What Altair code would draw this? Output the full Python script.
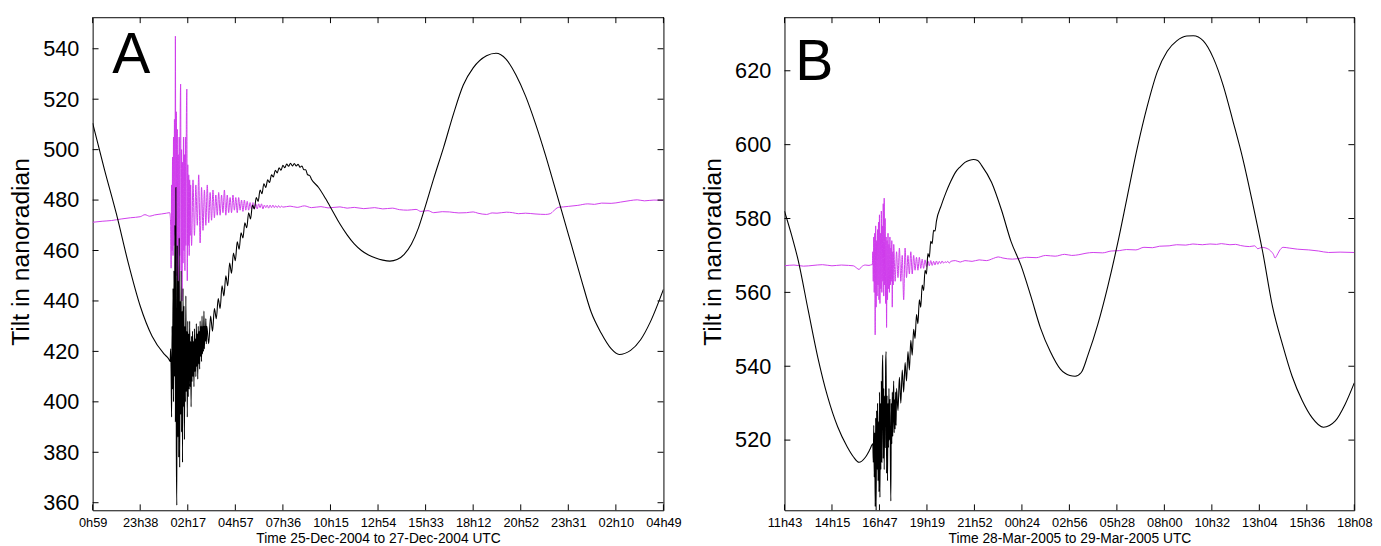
import altair as alt
import pandas as pd

FONT = "Liberation Sans"
BLACK = "#000000"
MAGENTA = "#cf3cec"

# ---------------- Panel A : 25-Dec-2004 to 27-Dec-2004 ----------------
A_TICK_LABELS = ["0h59", "23h38", "02h17", "04h57", "07h36", "10h15", "12h54",
                 "15h33", "18h12", "20h52", "23h31", "02h10", "04h49"]
A_STEP_H = 2.655          # hours between two time ticks
A_Y_TICKS = [360, 380, 400, 420, 440, 460, 480, 500, 520, 540]
A_Y_DOMAIN = [357, 552.5]
A_XTITLE = "Time 25-Dec-2004 to 27-Dec-2004 UTC"

# time is given in units of the tick step (0 = first tick, 12 = last tick)
A_BLACK_PRE_T = [0, 0.25, 0.5, 0.75, 1.0, 1.25, 1.5, 1.6]
A_BLACK_PRE_V = [510.5, 492, 474.5, 455, 438, 426, 419, 417]
A_BLACK_BURST = (1.63, 0.01, [
    416, 421, 412, 394, 430, 405, 445, 400, 452, 410, 470, 392, 485, 380, 359, 462,
    386, 448, 378, 465, 374, 440, 395, 452, 388, 436, 376, 445, 398, 438, 385, 430,
    400, 442, 404, 428, 394, 432, 402, 427, 405, 432, 406, 424, 398, 426, 408, 428,
    410, 424, 406, 429, 412, 425, 410, 431, 414, 427, 409, 430, 415, 428, 413, 432,
    418, 430, 416, 434, 419, 430, 420, 436, 421, 430, 424, 433, 423])
A_BLACK_RISE = (2.40, 0.04, [
    430, 423, 434, 428, 437, 433, 441, 437, 446, 442, 450, 446, 455, 451, 459, 456,
    463.5, 460.5, 467, 465, 471, 469, 475, 472.5, 478, 476.5, 481, 479.5, 484, 482.5,
    486.5, 485, 488, 487, 490, 489.2, 491.8, 490.8, 492.8, 491.8, 493.8, 492.8, 494.3,
    493.4, 494.6, 493.5, 494.5, 493.5, 494.2, 493, 493.5, 492, 492, 490, 489.8, 488.3])
A_BLACK_POST_T = [4.75, 4.9, 5.05, 5.2, 5.35, 5.5, 5.65, 5.8, 5.95, 6.1, 6.25, 6.4, 6.55,
                  6.7, 6.85, 6.97, 7.17, 7.38, 7.59, 7.79, 8.0, 8.28, 8.48, 8.69, 8.9,
                  9.1, 9.31, 9.52, 9.69, 9.86, 10.07, 10.28, 10.48, 10.69, 10.9, 11.07,
                  11.31, 11.52, 11.72, 12.0]
A_BLACK_POST_V = [485, 480.5, 475.5, 470.5, 466.2, 462.6, 460, 458.2, 457, 456.2, 455.8,
                  456.4, 458.5, 462.5, 469, 476, 488.5, 501, 514.4, 525.5, 532.4, 537.2,
                  538.2, 535.9, 529.6, 521.3, 510.3, 497.8, 486.8, 475.7, 461.9, 448.1,
                  435.6, 427.3, 421.1, 418.8, 420.4, 424.6, 431.5, 444.6]

A_MAG_PRE_T = [0, 0.2, 0.4, 0.6, 0.8, 1.0, 1.1, 1.2, 1.3, 1.45, 1.55, 1.62]
A_MAG_PRE_V = [471.2, 471.6, 471.9, 472.5, 473.0, 473.4, 474.2, 473.6, 474.1, 474.5,
               474.8, 475]
A_MAG_BURST = (1.63, 0.01, [
    474, 470, 453, 486, 460, 497, 458, 505, 462, 512, 466, 545, 455, 515, 450, 508,
    444, 498, 441, 505, 458, 512, 526, 452, 500, 440, 495, 455, 505, 460, 498, 452,
    505, 462, 510, 524, 448, 494, 462, 490, 458, 488, 466, 486, 470])
A_MAG_DECAY = (2.08, 0.03, [
    462, 488, 466, 486, 470, 490, 463, 485, 468, 484, 470, 486, 471, 483, 472, 484,
    473, 482, 474, 483, 474, 482, 475, 484, 474, 482, 475, 481, 475, 482, 476, 481,
    475, 481, 476, 480, 475.5, 480, 476, 479.5, 476, 479, 476.5, 479, 476.5, 478.5,
    476.5, 478.5, 477, 478.5, 476.5, 478, 477, 478, 476.8, 478, 477, 478, 477, 477.8,
    477, 477.8, 477, 477.6, 477.2])
A_MAG_POST_T = [4.15, 4.3, 4.45, 4.6, 4.8, 4.95, 5.2, 5.35, 5.5, 5.7, 5.93, 6.1, 6.3,
                6.45, 6.62, 6.8, 6.9, 7.05, 7.17, 7.35, 7.5, 7.7, 7.86, 8.0, 8.1, 8.28,
                8.4, 8.5, 8.7, 8.83, 8.95, 9.1, 9.3, 9.52, 9.62, 9.69, 9.79, 9.9, 10.0,
                10.2, 10.41, 10.55, 10.7, 10.9, 11.1, 11.3, 11.45, 11.6, 11.8, 12.0]
A_MAG_POST_V = [477.6, 477.1, 477.7, 477.0, 477.4, 476.9, 477.3, 476.8, 477.1, 476.6,
                477.0, 476.5, 476.8, 476.2, 476.0, 476.3, 475.5, 475.8, 475.0, 475.4,
                475.3, 474.9, 475.0, 475.3, 474.8, 474.3, 474.9, 474.8, 475.2, 475.0,
                474.6, 474.8, 474.5, 474.3, 474.6, 475.7, 477.1, 477.3, 477.5, 477.9,
                478.5, 478.3, 478.8, 478.7, 479.2, 479.8, 480.1, 479.7, 480.0, 479.9]

# ---------------- Panel B : 28-Mar-2005 to 29-Mar-2005 ----------------
B_TICK_LABELS = ["11h43", "14h15", "16h47", "19h19", "21h52", "00h24", "02h56",
                 "05h28", "08h00", "10h32", "13h04", "15h36", "18h08"]
B_STEP_H = 2.54
B_Y_TICKS = [520, 540, 560, 580, 600, 620]
B_Y_DOMAIN = [501, 634.5]
B_XTITLE = "Time 28-Mar-2005 to 29-Mar-2005 UTC"

B_BLACK_PRE_T = [0, 0.15, 0.29, 0.5, 0.7, 0.91, 1.12, 1.32, 1.45, 1.57, 1.7, 1.8]
B_BLACK_PRE_V = [582, 575.5, 568.6, 555.1, 542.5, 531.7, 523.6, 518.2, 515.5, 514,
                 515.3, 517.5]
B_BLACK_BURST = (1.86, 0.01, [
    519, 514, 524, 510, 522, 502, 526, 501, 528, 512, 530, 509, 525, 506, 533, 504.5,
    530, 512, 536, 514, 538, 543, 515, 534, 512, 532, 518, 540, 544, 511, 532, 509,
    530, 518, 534, 520, 531, 515, 503.5, 530, 519, 533, 521, 530, 536, 522, 531, 523,
    533, 524])
B_BLACK_RISE = (2.36, 0.03, [
    534, 528, 537, 530, 539, 533, 541, 536, 544, 539, 547, 543, 550, 547.5, 554, 551.5,
    558, 556, 562, 560.5, 566, 565, 570.5, 569.5, 573.8, 573.2, 576.8, 576.6, 579.3])
B_BLACK_POST_T = [3.3, 3.4, 3.5, 3.6, 3.7, 3.8, 3.9, 3.98, 4.07, 4.15, 4.36, 4.57, 4.77,
                  4.98, 5.19, 5.39, 5.6, 5.81, 6.01, 6.12, 6.25, 6.39, 6.6, 6.81, 7.01,
                  7.22, 7.43, 7.64, 7.85, 8.06, 8.26, 8.47, 8.61, 8.82, 9.03, 9.24, 9.44,
                  9.65, 9.86, 10.07, 10.28, 10.49, 10.69, 10.9, 11.11, 11.35, 11.6,
                  11.81, 12.0]
B_BLACK_POST_V = [583.5, 587, 590, 592.5, 594, 595.2, 595.8, 596, 595.7, 594.4, 589.8,
                  582.3, 573.8, 567.3, 558.9, 550.4, 543.9, 539.2, 537.5, 537.3, 538.3,
                  543, 551.4, 561.7, 572.9, 586, 599.1, 610.4, 619.7, 625.3, 628.1,
                  629.4, 629.5, 628.1, 623.5, 616, 606.6, 596.3, 584.1, 571, 556, 545.8,
                  537.3, 530.8, 526.1, 523.5, 525.2, 529.8, 535.5]

B_MAG_PRE_T = [0, 0.2, 0.4, 0.6, 0.8, 1.0, 1.2, 1.35, 1.45, 1.52, 1.57, 1.62, 1.7, 1.78,
               1.84]
B_MAG_PRE_V = [567.2, 567.4, 567.1, 567.3, 567.5, 567.2, 567.4, 567.3, 567.2, 566.6,
               566.2, 566.9, 567.4, 567.3, 567.5]
B_MAG_BURST = (1.85, 0.01, [
    567.5, 571, 563, 575, 560, 576, 548.5, 578, 556, 574, 559, 577, 562, 579, 558, 581,
    557, 576, 561, 582, 560, 578, 563, 584, 559, 585.5, 562, 580, 557, 575, 550.5, 574,
    558, 576, 561, 573, 560, 575, 562, 572, 563, 574, 556, 571, 562, 573])
B_MAG_DECAY = (2.33, 0.03, [
    563, 571, 564, 572, 563, 570, 558, 572, 564, 570, 565, 571, 565, 570, 566, 569.5,
    566, 569.5, 566.5, 569, 566.5, 568.8, 567, 568.5, 567.2, 568.6, 567.3, 568.4, 567.4,
    568.5, 567.6, 568.4, 567.8, 568.5, 567.9, 568.3, 568.1, 568.4, 567.9, 568.4])
B_MAG_POST_T = [3.6, 3.7, 3.8, 3.95, 4.1, 4.25, 4.4, 4.5, 4.6, 4.8, 5.0, 5.1, 5.3, 5.5,
                5.7, 5.9, 6.05, 6.2, 6.35, 6.5, 6.7, 6.88, 7.05, 7.2, 7.4, 7.57, 7.75,
                7.9, 8.1, 8.26, 8.45, 8.6, 8.8, 8.96, 9.1, 9.2, 9.38, 9.5, 9.6, 9.79, 9.9,
                9.97, 10.05, 10.14, 10.24, 10.3, 10.33, 10.37, 10.42, 10.5, 10.63, 10.8,
                11.04, 11.25, 11.46, 11.7, 12.0]
B_MAG_POST_V = [568.6, 568.2, 568.6, 568.4, 568.8, 568.6, 569.2, 569.6, 569.3, 569.0,
                569.3, 569.5, 569.4, 570.0, 569.8, 570.3, 570.0, 570.2, 570.6, 570.8,
                570.7, 571.2, 571.3, 571.6, 571.5, 572.2, 572.1, 572.5, 572.6, 572.9,
                572.8, 573.1, 572.9, 573.1, 573.0, 573.2, 572.9, 573.0, 572.7, 572.4,
                572.6, 571.8, 572.2, 572.0, 571.2, 570.2, 569.3, 570.0, 571.2, 572.2,
                572.0, 571.7, 571.5, 571.2, 570.8, 570.9, 570.8]

H = 501
TICK_LEN = 6


def build_series(step_h, pieces):
    """pieces: list of (t_list, v_list) or (start, dt, values) sampled on a regular grid"""
    rows = []
    for p in pieces:
        if isinstance(p[0], list):
            pts = zip(p[0], p[1])
        else:
            start, dt, vals = p
            pts = ((start + i * dt, v) for i, v in enumerate(vals))
        for t, v in pts:
            rows.append({"t": round(t * step_h, 5), "v": v})
    df = pd.DataFrame(rows).sort_values("t").reset_index(drop=True)
    df["i"] = range(len(df))
    return df


def panel(W, step_h, labels, yticks, ydom, xtitle, letter, black_pieces, mag_pieces,
          letter_x, letter_y):
    xmax = 12 * step_h
    xs = alt.Scale(domain=[0, xmax], nice=False, zero=False)
    ys = alt.Scale(domain=ydom, nice=False, zero=False)
    tick_vals = [round(k * step_h, 5) for k in range(13)]
    arr = "[" + ",".join("'%s'" % s for s in labels) + "]"
    xaxis = alt.Axis(values=tick_vals, labelExpr="%s[round(datum.value/%s)]" % (arr, step_h),
                     ticks=False, tickSize=0, domain=False, grid=False, labelPadding=6,
                     labelFontSize=13, labelOverlap=False, labelFlush=False,
                     title=xtitle, titleFontSize=14, titleFontWeight="normal",
                     titlePadding=3, labelColor="black", titleColor="black",
                     labelFont=FONT, titleFont=FONT)
    yaxis = alt.Axis(values=yticks, ticks=False, tickSize=0, domain=False, grid=False,
                     labelPadding=14, labelFontSize=22, labelColor="black",
                     title="Tilt in nanoradian", titleFontSize=25, titleY=238,
                     titleFontWeight="normal", titlePadding=9, titleColor="black",
                     labelFont=FONT, titleFont=FONT)
    X = alt.X("t:Q", scale=xs, axis=xaxis)
    Y = alt.Y("v:Q", scale=ys, axis=yaxis)

    mag = alt.Chart(build_series(step_h, mag_pieces)).mark_line(
        color=MAGENTA, strokeWidth=1, clip=True, interpolate="monotone").encode(
        x=X, y=Y, order="i:Q")
    blk = alt.Chart(build_series(step_h, black_pieces)).mark_line(
        color=BLACK, strokeWidth=1.1, clip=True, interpolate="monotone").encode(
        x=X, y=Y, order="i:Q")

    xt = pd.DataFrame({"t": tick_vals})
    yt = pd.DataFrame({"v": yticks})
    top = alt.Chart(xt).mark_rule(color="black", strokeWidth=1).encode(
        x=X, y=alt.value(0), y2=alt.value(TICK_LEN))
    bot = alt.Chart(xt).mark_rule(color="black", strokeWidth=1).encode(
        x=X, y=alt.value(H), y2=alt.value(H - TICK_LEN))
    lft = alt.Chart(yt).mark_rule(color="black", strokeWidth=1).encode(
        y=Y, x=alt.value(0), x2=alt.value(TICK_LEN))
    rgt = alt.Chart(yt).mark_rule(color="black", strokeWidth=1).encode(
        y=Y, x=alt.value(W), x2=alt.value(W - TICK_LEN))

    txt = alt.Chart(pd.DataFrame({"s": [letter]})).mark_text(
        font=FONT, fontSize=58, align="left", baseline="alphabetic", color="black").encode(
        text="s:N", x=alt.value(letter_x), y=alt.value(letter_y))

    return alt.layer(mag, blk, top, bot, lft, rgt, txt).properties(width=W, height=H)


A = panel(580, A_STEP_H, A_TICK_LABELS, A_Y_TICKS, A_Y_DOMAIN, A_XTITLE, "A",
          [(A_BLACK_PRE_T, A_BLACK_PRE_V), A_BLACK_BURST, A_BLACK_RISE,
           (A_BLACK_POST_T, A_BLACK_POST_V)],
          [(A_MAG_PRE_T, A_MAG_PRE_V), A_MAG_BURST, A_MAG_DECAY,
           (A_MAG_POST_T, A_MAG_POST_V)], 20, 57)
B = panel(579, B_STEP_H, B_TICK_LABELS, B_Y_TICKS, B_Y_DOMAIN, B_XTITLE, "B",
          [(B_BLACK_PRE_T, B_BLACK_PRE_V), B_BLACK_BURST, B_BLACK_RISE,
           (B_BLACK_POST_T, B_BLACK_POST_V)],
          [(B_MAG_PRE_T, B_MAG_PRE_V), B_MAG_BURST, B_MAG_DECAY,
           (B_MAG_POST_T, B_MAG_POST_V)], 11, 64)

chart = alt.hconcat(A, B, spacing=18).configure_view(
    stroke="black", strokeWidth=1).properties(
    background="white", padding={"left": 0, "top": 4, "right": 0, "bottom": 0})

chart.save("out.html", embed_options={"renderer": "svg", "actions": False})
